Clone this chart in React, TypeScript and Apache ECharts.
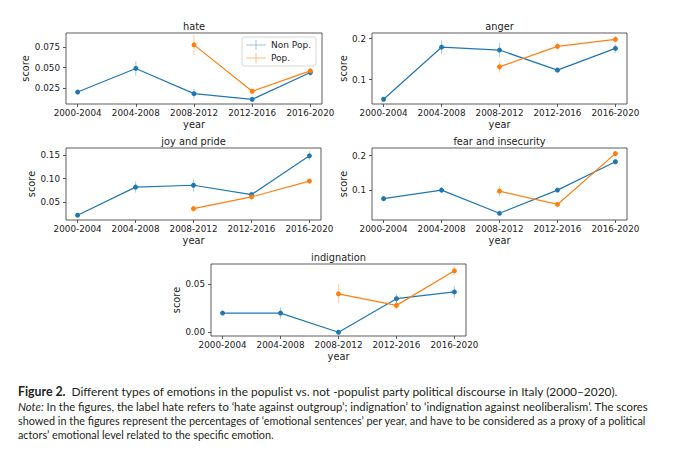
import React, { useEffect, useRef } from 'react';
import * as echarts from 'echarts';

const categories = ['2000-2004', '2004-2008', '2008-2012', '2012-2016', '2016-2020'];
const seriesNames = ['Non Pop.', 'Pop.'];

const hateNonPop = [0.020, 0.049, 0.018, 0.011, 0.044];
const hateNonPopErr = [0.002, 0.009, 0.006, 0.002, 0.0045];
const hatePop = [null, null, 0.078, 0.021, 0.046];
const hatePopErr = [null, null, 0.012, 0.003, 0.003];

const angerNonPop = [0.052, 0.179, 0.172, 0.123, 0.176];
const angerNonPopErr = [0.004, 0.017, 0.018, 0.005, 0.011];
const angerPop = [null, null, 0.131, 0.181, 0.198];
const angerPopErr = [null, null, 0.014, 0.010, 0.008];

const joyNonPop = [0.022, 0.082, 0.086, 0.066, 0.149];
const joyNonPopErr = [0.002, 0.012, 0.014, 0.003, 0.010];
const joyPop = [null, null, 0.036, 0.061, 0.095];
const joyPopErr = [null, null, 0.006, 0.003, 0.005];

const fearNonPop = [0.074, 0.099, 0.031, 0.099, 0.182];
const fearNonPopErr = [0.004, 0.009, 0.004, 0.005, 0.006];
const fearPop = [null, null, 0.096, 0.057, 0.206];
const fearPopErr = [null, null, 0.015, 0.005, 0.007];

const indigNonPop = [0.020, 0.020, 0.000, 0.035, 0.042];
const indigNonPopErr = [0.001, 0.006, 0.001, 0.0045, 0.006];
const indigPop = [null, null, 0.040, 0.028, 0.064];
const indigPopErr = [null, null, 0.010, 0.005, 0.0045];

const hateTicks = [0.025, 0.05, 0.075];
const angerTicks = [0.1, 0.2];
const joyTicks = [0.05, 0.1, 0.15];
const fearTicks = [0.1, 0.2];
const indigTicks = [0.0, 0.05];

const hateLimits = [0.0053, 0.0926];
const angerLimits = [0.0404, 0.2136];
const joyLimits = [0.0117, 0.1657];
const fearLimits = [0.0114, 0.2224];
const indigLimits = [-0.0039, 0.0711];

const captionLine1 = '{b|Figure 2.}  Different types of emotions in the populist vs. not -populist party political discourse in Italy (2000\u20132020).';
const captionLine2 = '{i|Note:} In the figures, the label hate refers to \u2018hate against outgroup\u2019; indignation\u2019 to \u2018indignation against neoliberalism\u2019. The scores';
const captionLine3 = 'showed in the figures represent the percentages of \u2018emotional sentences\u2019 per year, and have to be considered as a proxy of a political';
const captionLine4 = 'actors\u2019 emotional level related to the specific emotion.';

const BLUE = '#1f77b4';
const ORANGE = '#ff7f0e';
const FONT = 'DejaVu Sans';
const CAP_FONT = 'Lato';

const panels = [
  { title: 'hate', nonPop: hateNonPop, nonPopErr: hateNonPopErr, pop: hatePop, popErr: hatePopErr, ticks: hateTicks, limits: hateLimits, dec: 3,
    layout: { left: 66, top: 33, width: 256, height: 71, nameGap: 34 } },
  { title: 'anger', nonPop: angerNonPop, nonPopErr: angerNonPopErr, pop: angerPop, popErr: angerPopErr, ticks: angerTicks, limits: angerLimits, dec: 1,
    layout: { left: 372, top: 33, width: 255, height: 71, nameGap: 22 } },
  { title: 'joy and pride', nonPop: joyNonPop, nonPopErr: joyNonPopErr, pop: joyPop, popErr: joyPopErr, ticks: joyTicks, limits: joyLimits, dec: 2,
    layout: { left: 66, top: 148, width: 255, height: 72, nameGap: 28 } },
  { title: 'fear and insecurity', nonPop: fearNonPop, nonPopErr: fearNonPopErr, pop: fearPop, popErr: fearPopErr, ticks: fearTicks, limits: fearLimits, dec: 1,
    layout: { left: 372, top: 148, width: 255, height: 72, nameGap: 22 } },
  { title: 'indignation', nonPop: indigNonPop, nonPopErr: indigNonPopErr, pop: indigPop, popErr: indigPopErr, ticks: indigTicks, limits: indigLimits, dec: 2,
    layout: { left: 211, top: 264, width: 255, height: 72, nameGap: 27 } },
];

const captionLayout = [
  { y: 391.7, size: 11.9 },
  { y: 406.5, size: 11.3 },
  { y: 420.7, size: 10.85 },
  { y: 434.3, size: 10.8 },
];

const plusIcon = 'path://M0,4.5L20,4.5L20,5.5L0,5.5Z M9.5,0L10.5,0L10.5,10L9.5,10Z';

function pairs(values: (number | null)[]) {
  const out: number[][] = [];
  values.forEach((v, i) => { if (v !== null) out.push([i, v]); });
  return out;
}
function triples(values: (number | null)[], errs: (number | null)[]) {
  const out: number[][] = [];
  values.forEach((v, i) => { if (v !== null) out.push([i, v, errs[i] as number]); });
  return out;
}

function errRender(color: string) {
  return (params: any, api: any) => {
    const x = api.value(0);
    const y = api.value(1);
    const e = api.value(2);
    const p1 = api.coord([x, y - e]);
    const p2 = api.coord([x, y + e]);
    return {
      type: 'line',
      shape: { x1: p1[0], y1: p1[1], x2: p2[0], y2: p2[1] },
      style: { stroke: color, lineWidth: 1.2, opacity: 0.35 },
    };
  };
}

export default function App() {
  const ref = useRef<HTMLDivElement>(null);
  useEffect(() => {
    if (!ref.current) return;
    const chart = echarts.init(ref.current, null, { renderer: 'svg' });
    const grid: any[] = [];
    const xAxis: any[] = [];
    const yAxis: any[] = [];
    const series: any[] = [];
    const graphic: any[] = [];
    panels.forEach((p, i) => {
      const L = p.layout;
      grid.push({ left: L.left, top: L.top, width: L.width, height: L.height, show: true, borderColor: '#333', borderWidth: 0.8, backgroundColor: 'transparent', containLabel: false });
      xAxis.push({
        gridIndex: i, type: 'value', min: -0.2, max: 4.2, position: 'bottom',
        name: 'year', nameLocation: 'middle', nameGap: 15,
        nameTextStyle: { fontFamily: FONT, fontSize: 9.8, color: '#222' },
        axisLine: { show: false, onZero: false },
        axisTick: { show: true, length: 3, customValues: [0, 1, 2, 3, 4], lineStyle: { color: '#333', width: 0.8 } },
        axisLabel: { customValues: [0, 1, 2, 3, 4], formatter: (v: number) => categories[Math.round(v)], fontFamily: FONT, fontSize: 8.8, color: '#222', margin: 4, hideOverlap: false },
        splitLine: { show: false },
      });
      yAxis.push({
        gridIndex: i, type: 'value', min: p.limits[0], max: p.limits[1], position: 'left',
        name: 'score', nameLocation: 'middle', nameGap: L.nameGap, nameRotate: 90,
        nameTextStyle: { fontFamily: FONT, fontSize: 9.8, color: '#222' },
        axisLine: { show: false, onZero: false },
        axisTick: { show: true, length: 3, customValues: p.ticks, lineStyle: { color: '#333', width: 0.8 } },
        axisLabel: { customValues: p.ticks, formatter: (v: number) => v.toFixed(p.dec), fontFamily: FONT, fontSize: 8.8, color: '#222', margin: 6 },
        splitLine: { show: false },
      });
      const sets = [
        { name: seriesNames[0], vals: p.nonPop, errs: p.nonPopErr, color: BLUE },
        { name: seriesNames[1], vals: p.pop, errs: p.popErr, color: ORANGE },
      ];
      sets.forEach((s) => {
        series.push({
          type: 'custom', name: s.name, xAxisIndex: i, yAxisIndex: i, z: 1,
          data: triples(s.vals as any, s.errs as any), encode: { x: 0, y: 1 },
          renderItem: errRender(s.color), silent: true,
        });
        series.push({
          type: 'line', name: s.name, xAxisIndex: i, yAxisIndex: i, z: 2,
          data: pairs(s.vals as any), symbol: 'circle', symbolSize: 5, showSymbol: true,
          lineStyle: { color: s.color, width: 1.2 }, itemStyle: { color: s.color },
          silent: true,
        });
      });
      graphic.push({
        type: 'text', x: L.left + L.width / 2, y: L.top - 7,
        style: { text: p.title, fontFamily: FONT, fontSize: 9.8, fill: '#222', align: 'center', verticalAlign: 'middle', textAlign: 'center', textVerticalAlign: 'middle' },
      });
    });
    const capLines = [captionLine1, captionLine2, captionLine3, captionLine4];
    capLines.forEach((t, k) => {
      const size = captionLayout[k].size;
      graphic.push({
        type: 'text', x: 18, y: captionLayout[k].y,
        style: {
          text: t, fontFamily: CAP_FONT, fontSize: size, fill: '#231f20', verticalAlign: 'middle', textVerticalAlign: 'middle',
          rich: {
            b: { fontFamily: CAP_FONT, fontSize: size + 0.4, fontWeight: 'bold', fill: '#231f20' },
            i: { fontFamily: CAP_FONT, fontSize: size, fontStyle: 'italic', fill: '#231f20' },
          },
        },
      });
    });
    chart.setOption({
      animation: false,
      backgroundColor: '#fff',
      grid, xAxis, yAxis, series, graphic,
      legend: {
        orient: 'vertical', left: 242, top: 37, selectedMode: false,
        itemWidth: 20, itemHeight: 10, itemGap: 3, padding: [3, 5, 3, 4],
        backgroundColor: 'rgba(255,255,255,0.8)', borderColor: '#ccc', borderWidth: 0.8, borderRadius: 2,
        textStyle: { fontFamily: FONT, fontSize: 9, color: '#222' },
        data: [
          { name: seriesNames[0], icon: plusIcon, itemStyle: { color: 'rgba(31,119,180,0.45)' } },
          { name: seriesNames[1], icon: plusIcon, itemStyle: { color: 'rgba(255,127,14,0.55)' } },
        ],
      },
    });
    return () => chart.dispose();
  }, []);
  return <div ref={ref} style={{ position: 'absolute', left: 0, top: 0, width: 680, height: 451, background: '#fff' }} />;
}
